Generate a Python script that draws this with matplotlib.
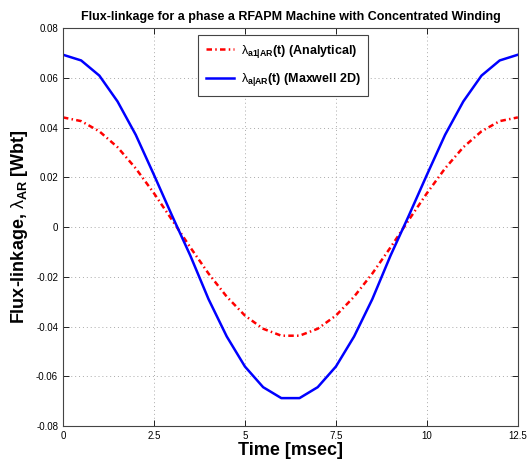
import matplotlib
matplotlib.use('Agg')
import matplotlib.pyplot as plt
from matplotlib.ticker import FuncFormatter

time_ms = [0.0, 0.5, 1.0, 1.5, 2.0, 2.5, 3.0, 3.5, 4.0, 4.5, 5.0, 5.5, 6.0,
           6.5, 7.0, 7.5, 8.0, 8.5, 9.0, 9.5, 10.0, 10.5, 11.0, 11.5, 12.0, 12.5]

flux_analytical = [0.0441, 0.0426, 0.0385, 0.0321, 0.0236, 0.0136, 0.0028, -0.0082,
                   -0.0187, -0.0280, -0.0356, -0.0409, -0.0437, -0.0437, -0.0409,
                   -0.0356, -0.0280, -0.0187, -0.0082, 0.0028, 0.0136, 0.0236,
                   0.0321, 0.0385, 0.0426, 0.0441]

flux_maxwell = [0.0693, 0.0670, 0.0609, 0.0505, 0.0371, 0.0210, 0.0045, -0.0115,
                -0.0290, -0.0440, -0.0561, -0.0644, -0.0688, -0.0688, -0.0644,
                -0.0561, -0.0440, -0.0290, -0.0115, 0.0045, 0.0210, 0.0371,
                0.0505, 0.0609, 0.0670, 0.0693]

x_ticks = [0, 2.5, 5, 7.5, 10, 12.5]
y_ticks = [-0.08, -0.06, -0.04, -0.02, 0, 0.02, 0.04, 0.06, 0.08]

#%% Plot parameters

plt.rcParams['font.family'] = 'Liberation Sans'
plt.rcParams['mathtext.fontset'] = 'custom'
plt.rcParams['mathtext.rm'] = 'Liberation Sans'
plt.rcParams['mathtext.bf'] = 'Liberation Sans:bold'
plt.rcParams['mathtext.it'] = 'Liberation Sans'  # keep the lambda upright like MATLAB

fig = plt.figure(figsize=(5.29, 4.61), dpi=100)
ax = fig.add_axes([0.119, 0.076, 0.860, 0.863])

ax.plot(time_ms, flux_analytical, color='red', linestyle=(0, (2.2, 1.3, 0.6, 1.3)),
        linewidth=1.8, label=r'$\lambda_{\mathbf{a1|AR}}$(t) (Analytical)')
ax.plot(time_ms, flux_maxwell, color='blue', linestyle='-', linewidth=1.8,
        label=r'$\lambda_{\mathbf{a|AR}}$(t) (Maxwell 2D)')

ax.set_xlim(0, 12.5)
ax.set_ylim(-0.08, 0.08)
ax.set_xticks(x_ticks)
ax.set_yticks(y_ticks)
ax.xaxis.set_major_formatter(FuncFormatter(lambda v, p: '%g' % v))
ax.yaxis.set_major_formatter(FuncFormatter(lambda v, p: '%g' % round(v, 2)))
ax.tick_params(direction='in', top=True, right=True, labelsize=7, length=4, width=0.6)
for s in ax.spines.values():
    s.set_linewidth(0.8)
    s.set_color('#444444')
ax.grid(True, linestyle=(0, (1, 3)), color='#aaaaaa', linewidth=0.7)

ax.set_title('Flux-linkage for a phase a RFAPM Machine with Concentrated Winding',
             fontsize=9, fontweight='bold', pad=6)
ax.set_xlabel('Time [msec]', fontsize=13, fontweight='bold', labelpad=1)
ax.set_ylabel(r'Flux-linkage, $\lambda_{\mathbf{AR}}$ [Wbt]', fontsize=13,
              fontweight='bold', labelpad=4)

leg = ax.legend(loc='upper left', bbox_to_anchor=(0.297, 0.982),
                prop={'weight': 'bold', 'size': 9}, fancybox=False, framealpha=1,
                edgecolor='#444444', handlelength=2.3, handletextpad=0.5,
                borderpad=0.6, labelspacing=0.9, borderaxespad=0)
leg.get_frame().set_linewidth(0.8)

plt.savefig('out.png', dpi=100)
plt.close()
